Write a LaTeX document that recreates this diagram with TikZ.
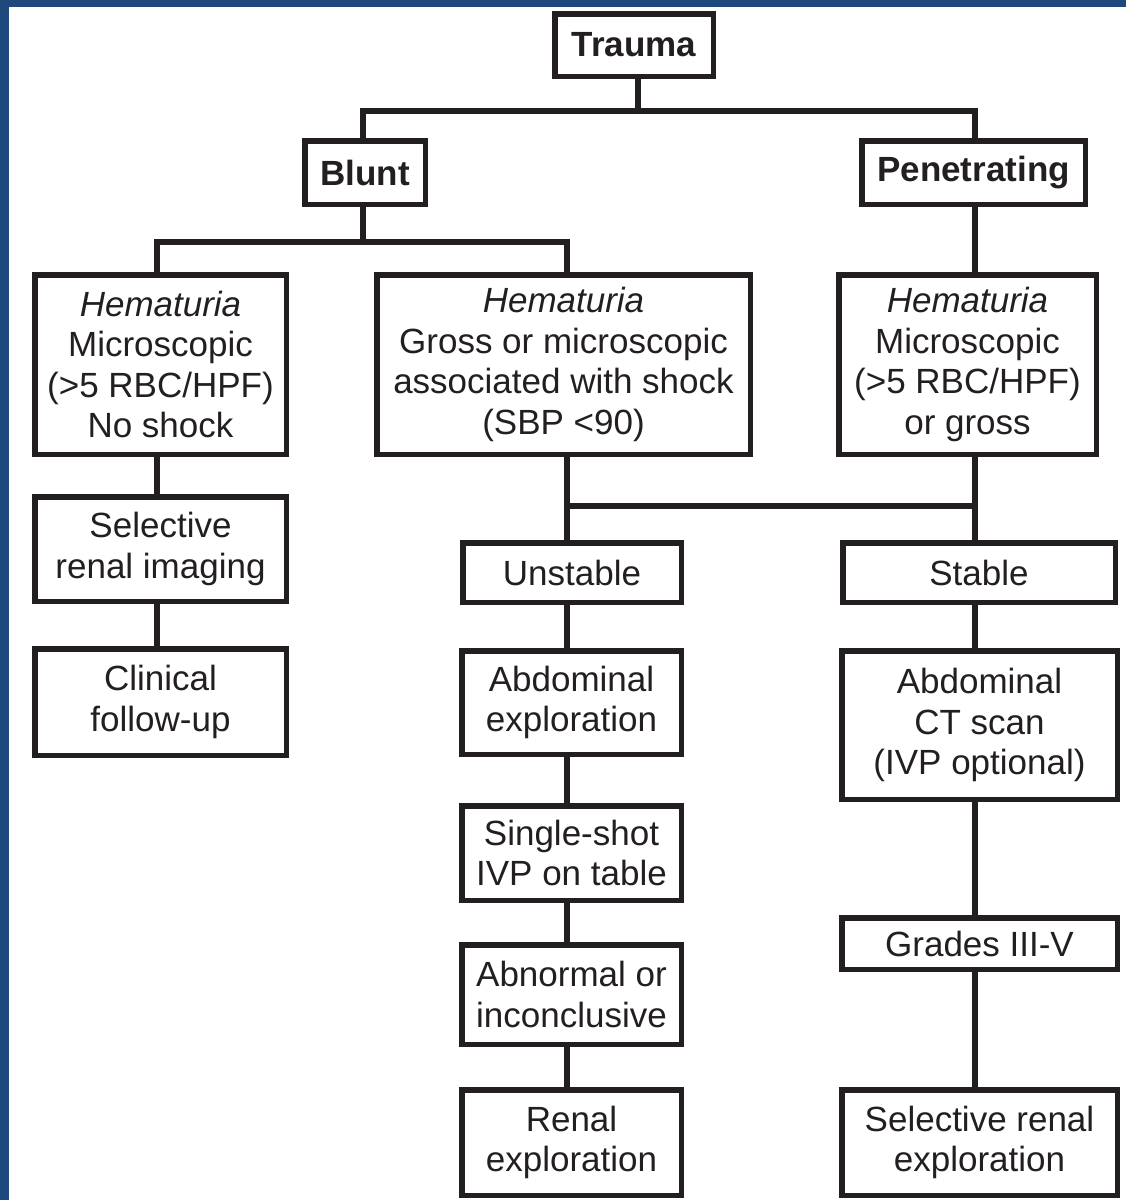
\documentclass[tikz,border=0pt]{standalone}
\usepackage{fontspec}
\setmainfont{Liberation Sans}
\definecolor{frameblue}{RGB}{31,73,125}
\definecolor{ink}{RGB}{35,31,32}
\begin{document}
\begin{tikzpicture}[x=1pt,y=-1pt,
  box/.style={draw=ink,line width=5.5pt,rectangle,inner sep=0pt,align=center,
    text=ink,font=\fontsize{35}{40.5}\selectfont},
  link/.style={draw=ink,line width=5.5pt,line cap=rect}]
\useasboundingbox (0,0) rectangle (1126,1200);
\fill[white] (0,0) rectangle (1126,1200);
\fill[frameblue] (0,0) rectangle (8.7,1200);
\fill[frameblue] (0,0) rectangle (1126,6.7);
% column coordinates
\coordinate (lc) at (157,0);
\coordinate (mc) at (567,0);
\coordinate (rc) at (975,0);
\coordinate (tc) at (638,0);
% nodes
\node[box,minimum width=158.5pt,minimum height=62.5pt] (trauma) at (634,45) {\textbf{Trauma}};
\node[box,minimum width=120.5pt,minimum height=63.5pt] (blunt) at (365,172.5) {\textbf{Blunt}};
\node[box,minimum width=223.5pt,minimum height=63.5pt] (pen) at (973.5,172.5) {\textbf{Penetrating}};
\node[box,minimum width=251.5pt,minimum height=179.5pt] (hem1) at (160.5,364.5) {\textit{Hematuria}\\Microscopic\\(>5 RBC/HPF)\\No shock};
\node[box,minimum width=373.5pt,minimum height=179.5pt] (hem2) at (563.5,364.5) {\textit{Hematuria}\\Gross or microscopic\\associated with shock\\(SBP <90)};
\node[box,minimum width=257.5pt,minimum height=179.5pt] (hem3) at (967.5,364.5) {\textit{Hematuria}\\Microscopic\\(>5 RBC/HPF)\\or gross};
\node[box,minimum width=251.5pt,minimum height=104.5pt] (sel) at (160.5,549) {Selective\\renal imaging};
\node[box,minimum width=251.5pt,minimum height=106.5pt] (clin) at (160.5,702) {Clinical\\follow-up};
\node[box,minimum width=218.5pt,minimum height=59.5pt] (unst) at (572,572.5) {Unstable};
\node[box,minimum width=272.5pt,minimum height=59.5pt] (stab) at (979,572.5) {Stable};
\node[box,minimum width=219.5pt,minimum height=103.5pt] (abdex) at (571.5,702.5) {Abdominal\\exploration};
\node[box,minimum width=219.5pt,minimum height=94.5pt] (ivp) at (571.5,853) {Single-shot\\IVP on table};
\node[box,minimum width=219.5pt,minimum height=99.5pt] (abn) at (571.5,994.5) {Abnormal or\\inconclusive};
\node[box,minimum width=219.5pt,minimum height=105.5pt] (renal) at (571.5,1142.5) {Renal\\exploration};
\node[box,minimum width=275.5pt,minimum height=148.5pt] (ct) at (979.5,725) {Abdominal\\CT scan\\(IVP optional)};
\node[box,minimum width=275.5pt,minimum height=51.5pt] (grades) at (979.5,943.5) {Grades III-V};
\node[box,minimum width=275.5pt,minimum height=105.5pt] (selren) at (979.5,1142.5) {Selective renal\\exploration};
% junctions
\coordinate (j1) at (638,111);
\coordinate (j2) at (363,242);
\coordinate (j3) at (567,506);
% connectors
\draw[link] (trauma.south -| tc) -- (j1);
\draw[link] (blunt.north -| j2) |- (j1) -| (pen.north -| rc);
\draw[link] (blunt.south -| j2) -- (j2);
\draw[link] (hem1.north -| lc) |- (j2) -| (hem2.north -| mc);
\draw[link] (pen.south -| rc) -- (hem3.north -| rc);
\draw[link] (hem2.south -| mc) -- (unst.north -| mc);
\draw[link] (hem3.south -| rc) -- (stab.north -| rc);
\draw[link] (j3) -- (j3 -| rc);
\draw[link] (hem1.south -| lc) -- (sel.north -| lc);
\draw[link] (sel.south -| lc) -- (clin.north -| lc);
\draw[link] (unst.south -| mc) -- (abdex.north -| mc);
\draw[link] (abdex.south -| mc) -- (ivp.north -| mc);
\draw[link] (ivp.south -| mc) -- (abn.north -| mc);
\draw[link] (abn.south -| mc) -- (renal.north -| mc);
\draw[link] (stab.south -| rc) -- (ct.north -| rc);
\draw[link] (ct.south -| rc) -- (grades.north -| rc);
\draw[link] (grades.south -| rc) -- (selren.north -| rc);
\end{tikzpicture}
\end{document}
